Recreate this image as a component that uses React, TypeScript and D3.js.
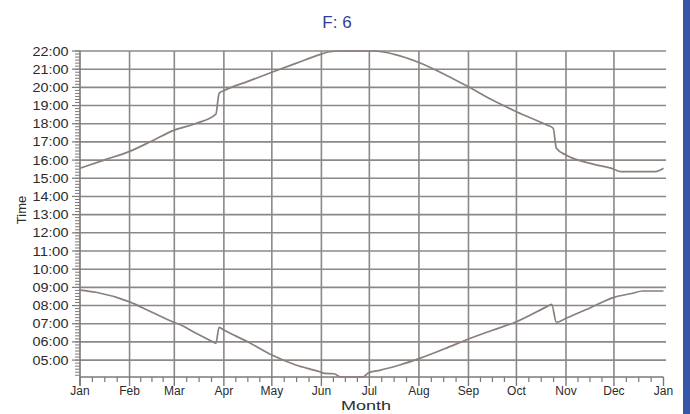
import React from "react";
import * as d3 from "d3";

const W = 690;
const H = 414;
const YEAR = 2001;

const titleText = "F: 6";
const xTitle = "Month";
const yTitle = "Time";
const monthLabels = ["Jan", "Feb", "Mar", "Apr", "May", "Jun", "Jul", "Aug", "Sep", "Oct", "Nov", "Dec", "Jan"];
const hourTicks = [5, 6, 7, 8, 9, 10, 11, 12, 13, 14, 15, 16, 17, 18, 19, 20, 21, 22];

// Upper curve (sunset), day-of-year offset vs hour
const sunsetDay = [0, 15, 31, 45, 59, 72, 85, 87, 90, 105, 120, 135, 151, 156, 163, 184, 196, 212, 225, 243, 258, 273, 292, 296, 298, 304, 321, 334, 338, 360, 365];
const sunsetHour = [15.55, 16.0, 16.48, 17.05, 17.65, 18.0, 18.53, 19.67, 19.82, 20.33, 20.83, 21.32, 21.83, 21.96, 22.0, 22.0, 21.83, 21.37, 20.85, 20.03, 19.3, 18.66, 17.93, 17.75, 16.65, 16.28, 15.78, 15.5, 15.37, 15.37, 15.55];

// Lower curve (sunrise)
const sunriseDay = [0, 10, 31, 45, 59, 62, 72, 83, 85, 87, 90, 104, 120, 135, 150, 153, 159, 163, 177, 180, 188, 200, 212, 228, 243, 258, 273, 292, 295, 298, 304, 319, 334, 345, 352, 365];
const sunriseHour = [8.85, 8.73, 8.2, 7.63, 7.07, 6.97, 6.51, 6.01, 5.92, 6.8, 6.65, 6.05, 5.28, 4.73, 4.36, 4.27, 4.25, 4.07, 4.07, 4.27, 4.45, 4.73, 5.08, 5.62, 6.16, 6.64, 7.11, 7.94, 8.07, 7.08, 7.3, 7.87, 8.45, 8.66, 8.8, 8.8];

const GRID = "#8c8886";
const AXIS = "#7d7976";
const CURVE = "#8a7f7b";
const TEXT = "#2b2b2b";
const FONT = "'Liberation Sans', Arial, sans-serif";

export default function App() {
  const x = d3
    .scaleTime()
    .domain([new Date(YEAR, 0, 1), new Date(YEAR + 1, 0, 1)])
    .range([80, 663.5]);
  const y = d3.scaleLinear().domain([4.07, 22]).range([377, 51]);

  const dayDate = (d: number) => new Date(YEAR, 0, 1 + d);
  const line = d3
    .line<[number, number]>()
    .x((d) => x(dayDate(d[0])))
    .y((d) => y(d[1]))
    .curve(d3.curveMonotoneX);

  const sunset: [number, number][] = sunsetDay.map((d, i) => [d, sunsetHour[i]]);
  const sunrise: [number, number][] = sunriseDay.map((d, i) => [d, sunriseHour[i]]);

  const monthDates = monthLabels.map((_, i) => new Date(YEAR, i, 1));
  const minorX: number[] = [];
  for (let m = 0; m < 12; m++) {
    const a = x(new Date(YEAR, m, 1));
    const b = x(new Date(YEAR, m + 1, 1));
    for (let k = 1; k < 4; k++) minorX.push(a + ((b - a) * k) / 4);
  }
  const minorY: number[] = [];
  for (let t = 4 + 10 / 60; t <= 22.001; t += 10 / 60) minorY.push(t);

  const [y0, y1] = [y(4.07), y(22)];
  const xL = x(new Date(YEAR, 0, 1));
  const xR = x(new Date(YEAR + 1, 0, 1));
  const fmt = (h: number) => (h < 10 ? "0" : "") + h + ":00";

  return (
    <svg
      width={W}
      height={H}
      style={{ position: "fixed", left: 0, top: 0, background: "#ffffff" }}
      fontFamily={FONT}
    >
      <rect x={0} y={0} width={W} height={H} fill="#ffffff" />
      {/* horizontal grid */}
      {hourTicks.map((h) => (
        <line key={"hg" + h} x1={xL} x2={666} y1={y(h)} y2={y(h)} stroke={GRID} strokeWidth={1.6} />
      ))}
      {/* vertical grid */}
      {monthDates.slice(1, 12).map((d, i) => (
        <line key={"vg" + i} x1={x(d)} x2={x(d)} y1={y1} y2={y0} stroke={GRID} strokeWidth={1.6} />
      ))}
      {/* axes */}
      <line x1={xL} x2={xL} y1={y1} y2={y0 + 9} stroke={AXIS} strokeWidth={1.6} />
      <line x1={xL} x2={xR} y1={y0} y2={y0} stroke={AXIS} strokeWidth={1.6} />
      {minorY.map((t, i) => (
        <line key={"my" + i} x1={xL - 5} x2={xL} y1={y(t)} y2={y(t)} stroke={AXIS} strokeWidth={1} />
      ))}
      {hourTicks.map((h) => (
        <line key={"My" + h} x1={xL - 8} x2={xL} y1={y(h)} y2={y(h)} stroke={AXIS} strokeWidth={1.2} />
      ))}
      {minorX.map((px, i) => (
        <line key={"mx" + i} x1={px} x2={px} y1={y0} y2={y0 + 5} stroke={AXIS} strokeWidth={1.2} />
      ))}
      {monthDates.map((d, i) => (
        <line key={"Mx" + i} x1={x(d)} x2={x(d)} y1={y0} y2={y0 + 9} stroke={AXIS} strokeWidth={1.4} />
      ))}
      {/* curves */}
      <path d={line(sunset) || ""} fill="none" stroke={CURVE} strokeWidth={1.7} strokeLinejoin="round" />
      <path d={line(sunrise) || ""} fill="none" stroke={CURVE} strokeWidth={1.7} strokeLinejoin="round" />
      {/* tick labels */}
      {hourTicks.map((h) => (
        <text
          key={"ly" + h}
          x={68.5}
          y={y(h)}
          dy="0.36em"
          textAnchor="end"
          fontSize={12.5}
          fill={TEXT}
          textLength={36}
          lengthAdjust="spacingAndGlyphs"
        >
          {fmt(h)}
        </text>
      ))}
      {monthLabels.map((m, i) => (
        <text key={"lx" + i} x={x(monthDates[i])} y={395} textAnchor="middle" fontSize={12} fill={TEXT}>
          {m}
        </text>
      ))}
      {/* titles */}
      <text x={337} y={28} textAnchor="middle" fontSize={17} fill="#2f3f95">
        {titleText}
      </text>
      <text x={366} y={410} textAnchor="middle" fontSize={12} fill={TEXT} textLength={50} lengthAdjust="spacingAndGlyphs">
        {xTitle}
      </text>
      <text transform="translate(26,210) rotate(-90)" textAnchor="middle" fontSize={13} fill={TEXT}>
        {yTitle}
      </text>
      {/* right blue bar */}
      <rect x={683} y={0} width={7} height={H} fill="#3657a7" />
    </svg>
  );
}
